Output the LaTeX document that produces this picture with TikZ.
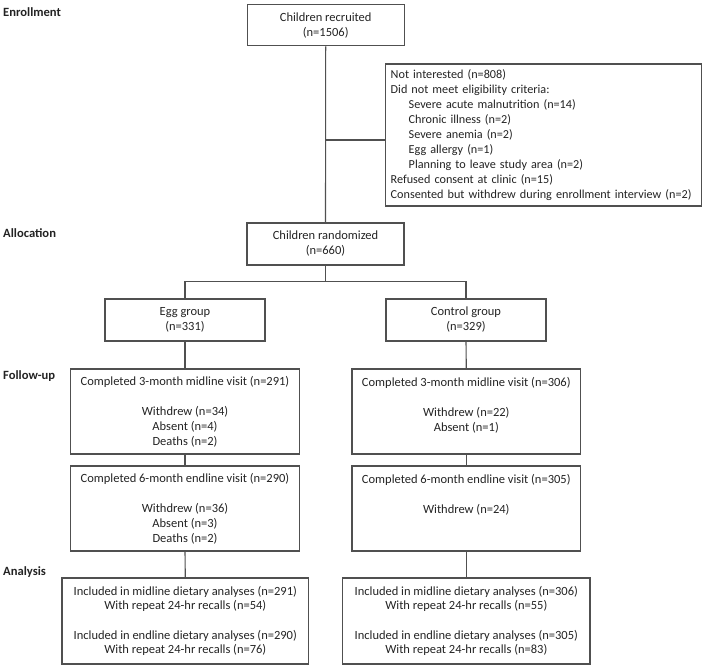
\documentclass[tikz,border=0pt]{standalone}
\usepackage{fontspec}
\setmainfont{Carlito}
\definecolor{boxline}{RGB}{80,80,80}
\definecolor{boxtext}{RGB}{35,35,35}
\begin{document}
\begin{tikzpicture}[x=1pt,y=-1pt,
  box/.style={draw=boxline,line width=1.1pt,text=boxtext,align=center,inner sep=0pt,font=\fontsize{12.5}{15}\selectfont},
  phase/.style={anchor=west,text=boxtext,inner sep=0pt,font=\fontsize{12.6}{15}\selectfont\bfseries},
  link/.style={draw=boxline,line width=1.1pt}]
\useasboundingbox (0,0) rectangle (709,669);

\node[phase] (enrol) at (3,12) {Enrollment};
\node[phase] (alloc) at (3,233) {Allocation};
\node[phase] (follow) at (3,376) {Follow-up};
\node[phase] (anal) at (3,572) {Analysis};

\node[box,minimum width=157pt,minimum height=41pt] (recruit) at (325.7,25.3) {Children recruited\\(n=1506)};
\node[box,align=left,text width=306pt,inner xsep=5pt,minimum height=142pt,font=\fontsize{12.2}{15.1}\selectfont] (excl) at (543.7,135) {Not interested (n=808)\\
Did not meet eligibility criteria:\\
\hspace*{18pt}Severe acute malnutrition (n=14)\\
\hspace*{18pt}Chronic illness (n=2)\\
\hspace*{18pt}Severe anemia (n=2)\\
\hspace*{18pt}Egg allergy (n=1)\\
\hspace*{18pt}Planning to leave study area (n=2)\\
Refused consent at clinic (n=15)\\
Consented but withdrew during enrollment interview (n=2)};
\node[box,minimum width=157pt,minimum height=42pt] (rand) at (325.5,244) {Children randomized\\(n=660)};

\node[box,minimum width=160pt,minimum height=42pt] (egg) at (185,320) {Egg group\\(n=331)};
\node[box,minimum width=160pt,minimum height=42pt] (ctrl) at (466,320) {Control group\\(n=329)};

\node[box,minimum width=228.6pt,minimum height=85pt] (eggmid) at (185,411.5) {Completed 3-month midline visit (n=291)\\[15pt]Withdrew (n=34)\\Absent (n=4)\\Deaths (n=2)};
\node[box,minimum width=228.6pt,minimum height=85pt] (ctrlmid) at (466.3,411.5) {Completed 3-month midline visit (n=306)\\[15pt]Withdrew (n=22)\\Absent (n=1)\\~};
\node[box,minimum width=228.6pt,minimum height=85pt] (eggend) at (185,508.5) {Completed 6-month endline visit (n=290)\\[15pt]Withdrew (n=36)\\Absent (n=3)\\Deaths (n=2)};
\node[box,minimum width=228.6pt,minimum height=85pt] (ctrlend) at (466.3,508.5) {Completed 6-month endline visit (n=305)\\[15pt]Withdrew (n=24)\\~\\~};

\node[box,minimum width=246.7pt,minimum height=86pt,font=\fontsize{12.5}{14.6}\selectfont] (egganl) at (185.3,621) {Included in midline dietary analyses (n=291)\\With repeat 24-hr recalls (n=54)\\[14.6pt]Included in endline dietary analyses (n=290)\\With repeat 24-hr recalls (n=76)};
\node[box,minimum width=247.3pt,minimum height=86pt,font=\fontsize{12.5}{14.6}\selectfont] (ctrlanl) at (466.3,621) {Included in midline dietary analyses (n=306)\\With repeat 24-hr recalls (n=55)\\[14.6pt]Included in endline dietary analyses (n=305)\\With repeat 24-hr recalls (n=83)};

\coordinate (branch) at (325.7,140);
\coordinate (fork) at (325.5,281.7);
\draw[link] (recruit.south) -- (rand.north);
\draw[link] (branch) -- (branch -| excl.west);
\draw[link] (rand.south) -- (fork);
\draw[link] (egg.north) |- (fork) -| (ctrl.north);
\draw[link] (egg.south) -- (eggmid.north);
\draw[link] (ctrl.south) -- (ctrlmid.north);
\draw[link] (eggmid.south) -- (eggend.north);
\draw[link] (ctrlmid.south) -- (ctrlend.north);
\draw[link] (eggend.south) -- (egganl.north);
\draw[link] (ctrlend.south) -- (ctrlanl.north);
\end{tikzpicture}
\end{document}
